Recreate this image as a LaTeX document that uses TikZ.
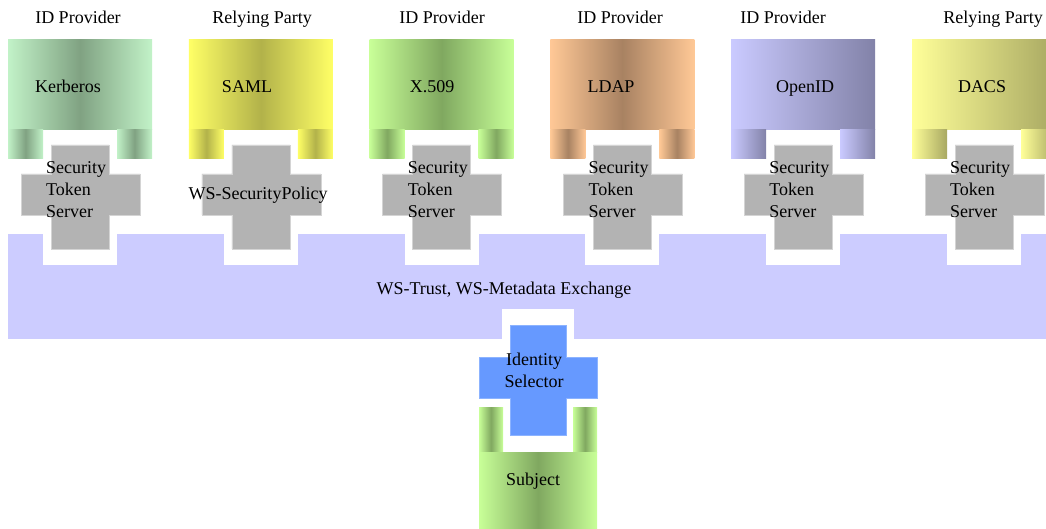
\documentclass[tikz,border=0pt]{standalone}
\usepackage{fontspec}
\setmainfont{Liberation Serif}
\usepackage{tikz}

% fills for the six back ends
\definecolor{kerbL}{HTML}{C2F2C8}
\definecolor{kerbD}{HTML}{80A282}
\definecolor{samlL}{HTML}{FFFF66}
\definecolor{samlD}{HTML}{B2B24A}
\definecolor{xnineL}{HTML}{C8FF98}
\definecolor{xnineD}{HTML}{80A860}
\definecolor{ldapL}{HTML}{FFC896}
\definecolor{ldapD}{HTML}{A88262}
\definecolor{openL}{HTML}{CACAFF}
\definecolor{openD}{HTML}{8282A8}
\definecolor{dacsL}{HTML}{FFFF99}
\definecolor{dacsD}{HTML}{A8A862}
\definecolor{busblue}{HTML}{CCCCFF}
\definecolor{stsgray}{HTML}{B3B3B3}
\definecolor{stsedge}{HTML}{D4D4D4}
\definecolor{selblue}{HTML}{6699FF}
\definecolor{seledge}{HTML}{8CB3FF}

\tikzset{
  lbl/.style={font=\fontsize{18}{22}\selectfont, inner sep=0pt},
  stsbox/.style={fill=stsgray, draw=stsedge, line width=0.6pt},
  selbox/.style={fill=selblue, draw=seledge, line width=0.6pt},
}

\begin{document}
\begin{tikzpicture}[x=1pt, y=-1pt]
  \clip (0,0) rectangle (1046,529);
  \fill[white] (0,0) rectangle (1046,529);

  % Shared bus, with white notches round the crosses
  \fill[busblue] (8,234) rectangle (1046,339);
  \foreach \m in {8,188.8,369.6,550.4,731.2,912}
    \fill[white] (\m+35,234) rectangle (\m+109,265);
  \fill[white] (502,309) rectangle (574,339);
  \node[lbl] (bus) at (504,290) {WS-Trust, WS-Metadata Exchange};

  % Back ends: body, two legs, name and role
  \foreach \m/\cl/\cm/\cr/\nm/\nx/\role/\rx [count=\i] in {
      8/kerbL/kerbD/kerbL/Kerberos/68/ID Provider/78,
      188.8/samlL/samlD/samlL/SAML/247/Relying Party/262,
      369.6/xnineL/xnineD/xnineL/X.509/432/ID Provider/442,
      550.4/ldapL/ldapD/ldapL/LDAP/611/ID Provider/620,
      731.2/openL/openL!50!openD/openD/OpenID/805/ID Provider/783,
      912/dacsL/dacsL!50!dacsD/dacsD/DACS/982/Relying Party/993} {
    \shade[left color=\cl, right color=\cr, middle color=\cm] (\m,40) rectangle ++(144,90);
    \shade[left color=\cl, right color=\cr, middle color=\cm] (\m,130) rectangle ++(35,29);
    \shade[left color=\cl, right color=\cr, middle color=\cm] (\m+109,130) rectangle ++(35,29);
    \node[lbl, anchor=base] (name\i) at (\nx,93) {\nm};
    \node[lbl, anchor=base] (role\i) at (\rx,24) {\role};

    % gray cross under each back end
    \filldraw[stsbox] (\m+43,145) -- (\m+101,145) -- (\m+101,174) -- (\m+132,174)
      -- (\m+132,215) -- (\m+101,215) -- (\m+101,249) -- (\m+43,249)
      -- (\m+43,215) -- (\m+13,215) -- (\m+13,174) -- (\m+43,174) -- cycle;
  }

  % Cross labels
  \foreach \m [count=\i] in {8,369.6,550.4,731.2,912}
    \node[lbl, anchor=west, align=left] (sts\i) at (\m+38,190) {Security\\Token\\Server};
  \node[lbl] (policy) at (258,195) {WS-SecurityPolicy};

  % Identity Selector
  \filldraw[selbox] (510,325) -- (566,325) -- (566,357) -- (597,357) -- (597,398)
    -- (566,398) -- (566,435) -- (510,435) -- (510,398) -- (479,398) -- (479,357)
    -- (510,357) -- cycle;
  \node[lbl, align=center] (selector) at (534,370) {Identity\\Selector};

  % Subject
  \shade[left color=xnineL, right color=xnineL, middle color=xnineD] (479,407) rectangle (503,452);
  \shade[left color=xnineL, right color=xnineL, middle color=xnineD] (573,407) rectangle (597,452);
  \shade[left color=xnineL, right color=xnineL, middle color=xnineD] (479,452) rectangle (597,529);
  \node[lbl] (subject) at (533,481) {Subject};
\end{tikzpicture}
\end{document}
